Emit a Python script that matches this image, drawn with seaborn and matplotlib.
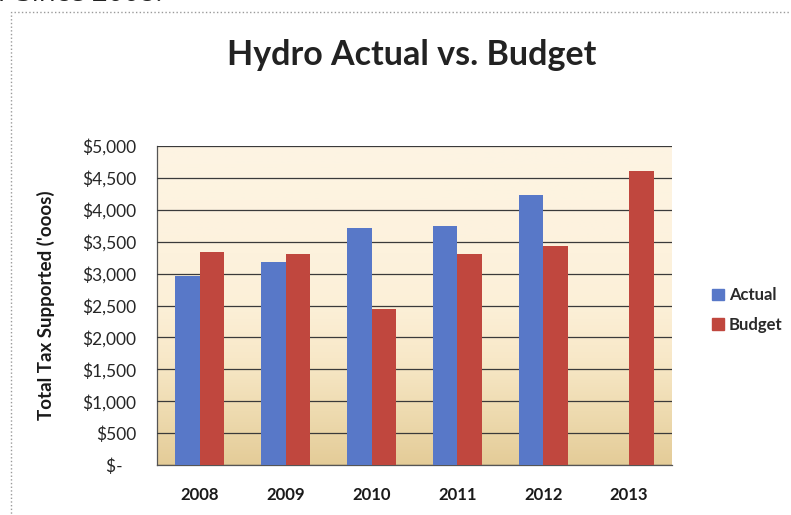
import numpy as np
import pandas as pd
import matplotlib.pyplot as plt
import matplotlib.patches as mpatches
import seaborn as sns

years = ['2008', '2009', '2010', '2011', '2012', '2013']
actual = [2960, 3175, 3710, 3750, 4230, np.nan]
budget = [3340, 3315, 2440, 3315, 3435, 4605]
series = ['Actual', 'Budget']
colors = ['#5878C8', '#C0473E']
y_ticks = [0, 500, 1000, 1500, 2000, 2500, 3000, 3500, 4000, 4500, 5000]

df = pd.DataFrame({
    'Year': years * 2,
    'Series': ['Actual'] * len(years) + ['Budget'] * len(years),
    'Value': actual + budget,
})

sns.set_style('white')
plt.rcParams['font.family'] = ['Lato', 'DejaVu Sans']

fig = plt.figure(figsize=(7.91, 5.15), dpi=100)
ax = fig.add_axes([157 / 791, 1 - 465 / 515, (672 - 157) / 791, (465 - 146) / 515])

# cream to tan gradient behind the bars, darker only near the bottom
grad = np.linspace(0, 1, 256).reshape(-1, 1)
cmap = sns.blend_palette(['#E4CC98', '#EEDBB0', '#F8E8C8', '#FCF0D8', '#FDF2DD',
                          '#FDF3E0', '#FDF4E3'], as_cmap=True)
ax.imshow(grad, extent=[0, 1, 0, 1], transform=ax.transAxes, aspect='auto',
          cmap=cmap, origin='lower', zorder=0)

sns.barplot(data=df, x='Year', y='Value', hue='Series', hue_order=series,
            palette=colors, width=0.57, gap=0, saturation=1, dodge=True,
            errorbar=None, ax=ax, legend=False, zorder=3, linewidth=0)

ax.set_xlim(-0.5, len(years) - 0.5)
ax.set_ylim(0, 5000)
ax.set_yticks(y_ticks)
ax.set_yticklabels(['$-   '] + [f'${v:,}' for v in y_ticks[1:]])
ax.yaxis.grid(True, color='#3a3a3a', linewidth=0.9)
ax.xaxis.grid(False)
ax.set_axisbelow(False)
for ln in ax.get_ygridlines():
    ln.set_zorder(1)

for side in ['top', 'right']:
    ax.spines[side].set_visible(False)
for side in ['left', 'bottom']:
    ax.spines[side].set_color('#555555')
    ax.spines[side].set_linewidth(0.9)

ax.tick_params(axis='y', labelsize=12.5, labelcolor='#262626', length=0, pad=15)
ax.tick_params(axis='x', labelsize=12, labelcolor='#1a1a1a', length=0, pad=16)
for lbl in ax.get_xticklabels():
    lbl.set_fontweight('bold')

ax.set_xlabel('')
ax.set_ylabel('')
fig.text(46 / 791, 1 - 305 / 515, "Total Tax Supported ('ooos)", rotation=90,
         ha='center', va='center', fontsize=13.5, fontweight='bold', color='#1a1a1a')

fig.text(412 / 791, 1 - 55 / 515, 'Hydro Actual vs. Budget', ha='center', va='center',
         fontsize=24.5, fontweight='bold', color='#222222')

handles = [mpatches.Patch(color=c, label=s) for c, s in zip(colors, series)]
fig.legend(handles=handles, loc='center left', bbox_to_anchor=(697 / 791, 1 - 310 / 515),
           frameon=False, handlelength=0.7, handleheight=0.7, handletextpad=0.3,
           labelspacing=0.8, prop={'size': 12, 'weight': 'bold'}, labelcolor='#2a2a2a')

# scanned page border and cut-off text above the chart
fig.patches.append(mpatches.Rectangle((11 / 791, -0.1), 1.0, 1 - 12 / 515 + 0.1,
                                      transform=fig.transFigure, fill=False,
                                      edgecolor='#9a9a9a', linewidth=1, linestyle=':'))
fig.text(-2 / 791, 1 - 1 / 515, 'r Since 2008.', ha='left', va='baseline',
         fontsize=20, color='#222222', family=['Open Sans', 'DejaVu Sans'])

fig.savefig('out.png', dpi=100)
